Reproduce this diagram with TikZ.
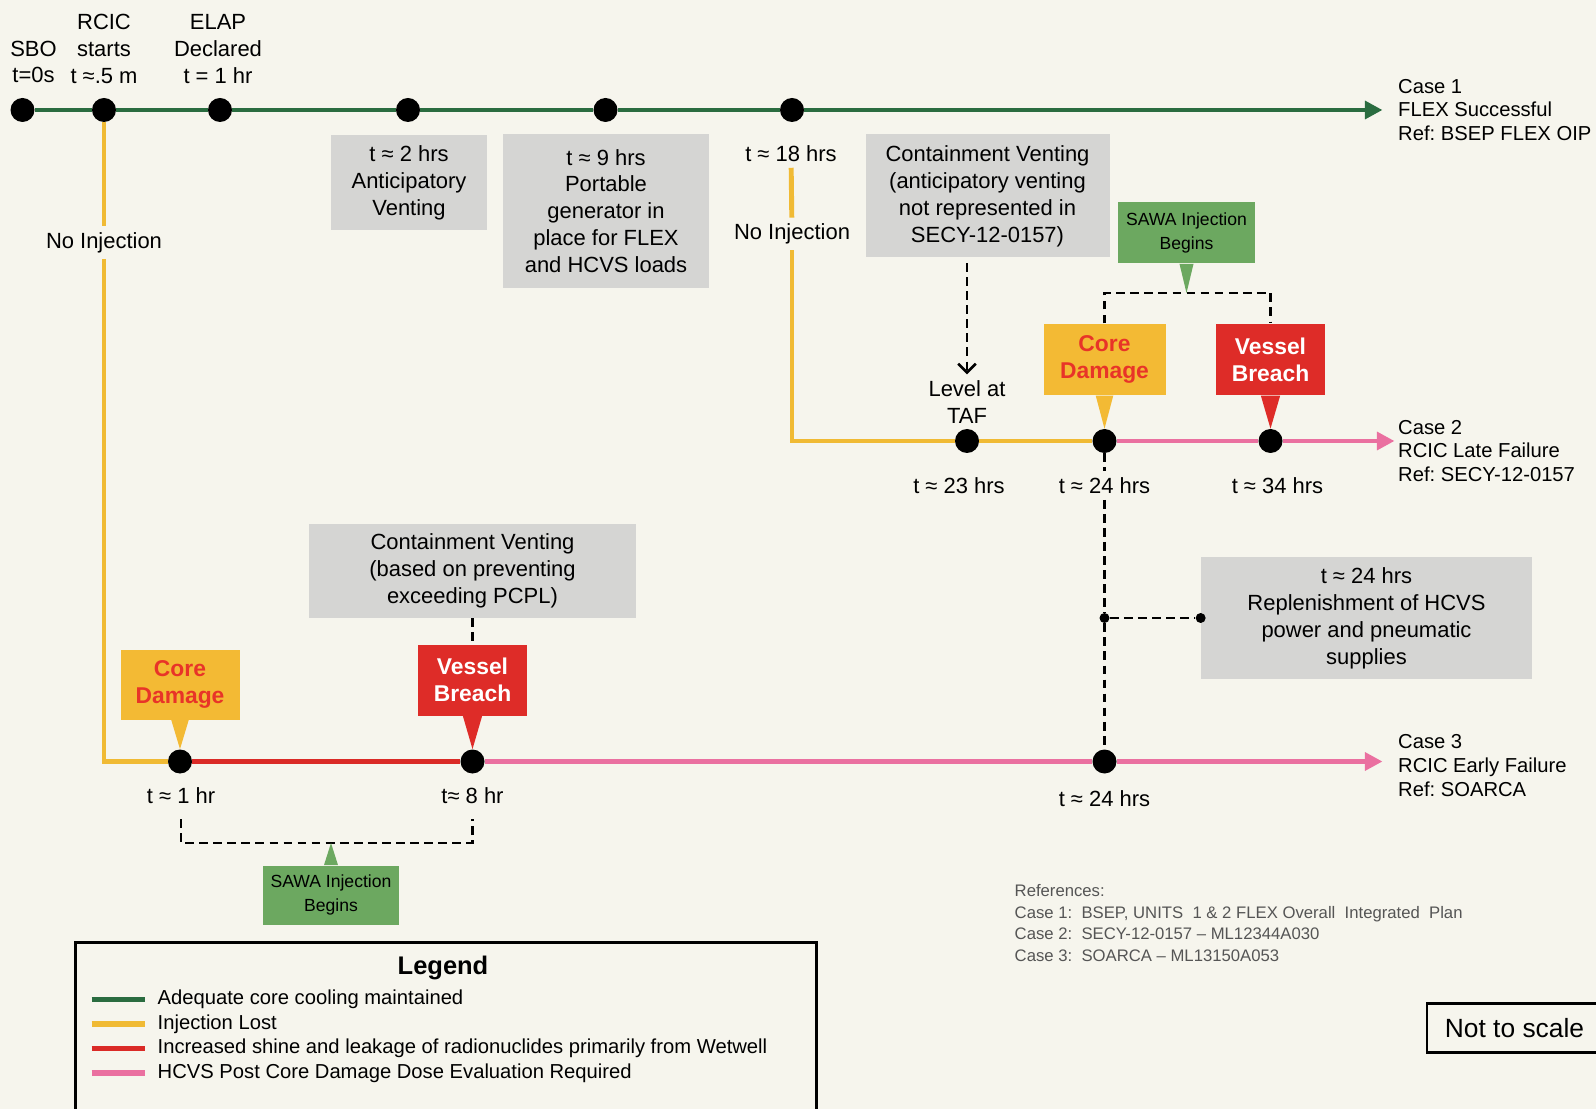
\documentclass[tikz,border=0pt]{standalone}
\usepackage{fontspec}
\setmainfont{Liberation Sans}
\usepackage{tikz}
\usetikzlibrary{arrows.meta,positioning}
\usepackage{xcolor}
\frenchspacing

\definecolor{bgcream}{RGB}{246,245,237}
\definecolor{lngreen}{RGB}{42,108,64}
\definecolor{lnyellow}{RGB}{240,186,52}
\definecolor{lnred}{RGB}{218,42,38}
\definecolor{lnpink}{RGB}{234,112,160}
\definecolor{boxgray}{RGB}{213,213,211}
\definecolor{cdorange}{RGB}{243,186,52}
\definecolor{cdtext}{RGB}{232,52,40}
\definecolor{vbred}{RGB}{222,44,40}
\definecolor{sawagreen}{RGB}{108,168,96}
\definecolor{reftext}{RGB}{85,85,85}

\begin{document}
\begin{tikzpicture}[
  lbl/.style={font=\fontsize{12.5}{15.3}\selectfont, align=center},
  gbox/.style={lbl, fill=boxgray, inner sep=0pt},
  cdbox/.style={fill=cdorange, text=cdtext, font=\fontsize{13}{15.5}\selectfont\bfseries, align=center, inner sep=0pt},
  vbbox/.style={cdbox, fill=vbred, text=white},
  sawabox/.style={fill=sawagreen, font=\fontsize{10}{13.3}\selectfont, align=center, inner sep=0pt},
  ev/.style={circle, fill=black, minimum size=0.48cm, inner sep=0pt},
  smdot/.style={circle, fill=black, minimum size=0.2cm, inner sep=0pt},
  caselbl/.style={font=\fontsize{11.5}{13.5}\selectfont, align=left, anchor=west},
  legtxt/.style={font=\fontsize{11.5}{13.5}\selectfont, anchor=west},
  tl/.style={line width=2.8pt},
  legln/.style={line width=3.4pt},
  dsh/.style={line width=1.5pt, dash pattern=on 5pt off 3pt},
  endtip/.style={-{Triangle[length=10pt,width=10pt]}}]

\useasboundingbox (0,0) rectangle (31.92,-22.18);
\fill[bgcream] (0,0) rectangle (31.92,-22.18);

% Case 1 - FLEX successful
\node[ev] (dsbo) at (0.45,-2.20) {};
\node[ev] (drcic) at (2.08,-2.20) {};
\node[ev] (delap) at (4.40,-2.20) {};
\node[ev] (d2h) at (8.16,-2.20) {};
\node[ev] (d9h) at (12.11,-2.20) {};
\node[ev] (d18h) at (15.84,-2.20) {};
\coordinate (end1) at (27.65,-2.20);
\draw[tl, lngreen, endtip] (dsbo) -- (drcic) -- (delap) -- (d2h) -- (d9h) -- (d18h) -- (end1);
\node[lbl] (lsbo) at (0.67,-1.24) {SBO\\t=0s};
\node[lbl] (lrcic) at (2.08,-0.98) {RCIC\\starts\\t ≈.5 m};
\node[lbl] (lelap) at (4.36,-0.98) {ELAP\\Declared\\t = 1 hr};
\node[caselbl] (c1lbl) at (27.84,-2.20) {Case 1\\FLEX Successful\\Ref: BSEP FLEX OIP};
\node[gbox, minimum width=3.13cm, minimum height=1.89cm] (b2h) at (8.18,-3.65) {t ≈ 2 hrs\\Anticipatory\\Venting};
\node[gbox, minimum width=4.13cm, minimum height=3.07cm] (b9h) at (12.12,-4.22) {t ≈ 9 hrs\\Portable\\generator in\\place for FLEX\\and HCVS loads};
\node[lbl] (t18h) at (15.82,-3.07) {t ≈ 18 hrs};
\node[gbox, minimum width=4.88cm, minimum height=2.46cm] (cv2) at (19.75,-3.92) {Containment Venting\\(anticipatory venting\\not represented in\\SECY-12-0157)};

% Case 2 - RCIC late failure
\node[lbl] (ni2) at (15.84,-4.68) {No Injection};
\node[ev] (dtaf) at (19.34,-8.82) {};
\node[ev] (dcd2) at (22.09,-8.82) {};
\node[ev] (dvb2) at (25.41,-8.82) {};
\coordinate (end2) at (27.89,-8.82);
\draw[tl, lnyellow] (t18h) -- (ni2);
\draw[tl, lnyellow] (ni2) |- (dtaf);
\draw[tl, lnyellow] (dtaf) -- (dcd2);
\draw[tl, lnpink, endtip] (dcd2) -- (dvb2) -- (end2);
\node[lbl] (lvl) at (19.34,-8.04) {Level at\\TAF};
\draw[dsh, shorten <=3pt, -{Straight Barb[length=5pt,width=10pt]}] (dtaf |- cv2.south) -- (lvl);
\node[cdbox, minimum width=2.44cm, minimum height=1.43cm] (cd2) at (22.09,-7.19) {Core\\Damage};
\node[vbbox, minimum width=2.18cm, minimum height=1.43cm] (vb2) at (25.41,-7.19) {Vessel\\Breach};
\fill[cdorange] ([xshift=-5pt]cd2.south) -- (dcd2.north) -- ([xshift=5pt]cd2.south) -- cycle;
\fill[vbred] ([xshift=-5.5pt]vb2.south) -- (dvb2.north) -- ([xshift=5.5pt]vb2.south) -- cycle;
\node[sawabox, minimum width=2.75cm, minimum height=1.22cm] (sw2) at (23.73,-4.66) {SAWA Injection\\Begins};
\coordinate (br2) at (23.73,-5.86);
\fill[sawagreen] ([xshift=-4pt]sw2.south) -- (br2) -- ([xshift=4pt]sw2.south) -- cycle;
\draw[dsh] (cd2.north) |- (br2) -| (vb2.north);
\node[lbl] (t23h) at (19.18,-9.71) {t ≈ 23 hrs};
\node[lbl] (t24a) at (22.09,-9.71) {t ≈ 24 hrs};
\node[lbl] (t34h) at (25.55,-9.71) {t ≈ 34 hrs};
\node[caselbl] (c2lbl) at (27.84,-9.02) {Case 2\\RCIC Late Failure\\Ref: SECY-12-0157};

% Case 3 - RCIC early failure
\node[lbl] (ni1) at (2.08,-4.85) {No Injection};
\node[ev] (dcd3) at (3.60,-15.23) {};
\node[ev] (dvb3) at (9.45,-15.23) {};
\node[ev] (d24c) at (22.09,-15.23) {};
\coordinate (end3) at (27.65,-15.23);
\draw[tl, lnyellow] (drcic) -- (ni1);
\draw[tl, lnyellow] (ni1) |- (dcd3);
\draw[tl, lnred] (dcd3) -- (dvb3);
\draw[tl, lnpink, endtip] (dvb3) -- (d24c) -- (end3);
\node[cdbox, minimum width=2.38cm, minimum height=1.40cm] (cd3) at (3.60,-13.69) {Core\\Damage};
\node[vbbox, minimum width=2.18cm, minimum height=1.42cm] (vb3) at (9.45,-13.60) {Vessel\\Breach};
\fill[cdorange] ([xshift=-5pt]cd3.south) -- (dcd3.north) -- ([xshift=5pt]cd3.south) -- cycle;
\fill[vbred] ([xshift=-5.5pt]vb3.south) -- (dvb3.north) -- ([xshift=5.5pt]vb3.south) -- cycle;
\node[gbox, minimum width=6.53cm, minimum height=1.87cm] (cv3) at (9.45,-11.42) {Containment Venting\\(based on preventing\\exceeding PCPL)};
\draw[dsh] (cv3) -- (vb3);
\node[lbl] (t1h) at (3.62,-15.92) {t ≈ 1 hr};
\node[lbl] (t8h) at (9.45,-15.92) {t≈ 8 hr};
\node[lbl] (t24c) at (22.09,-15.98) {t ≈ 24 hrs};
\node[caselbl] (c3lbl) at (27.84,-15.31) {Case 3\\RCIC Early Failure\\Ref: SOARCA};
\node[sawabox, minimum width=2.73cm, minimum height=1.18cm] (sw3) at (6.62,-17.90) {SAWA Injection\\Begins};
\coordinate (br3) at (6.62,-16.86);
\draw[dsh] ([yshift=-5pt]t1h.south) |- (br3) -| ([yshift=-5pt]t8h.south);
\fill[sawagreen] ([xshift=-4pt]sw3.north) -- (br3) -- ([xshift=4pt]sw3.north) -- cycle;

% replenishment at 24 hrs
\node[smdot] (jn) at (22.09,-12.36) {};
\node[gbox, minimum width=6.62cm, minimum height=2.42cm] (rep) at (27.33,-12.36) {t ≈ 24 hrs\\Replenishment of HCVS\\power and pneumatic\\supplies};
\node[smdot] (jr) at (rep.west) {};
\draw[dsh] (dcd2) -- (t24a);
\draw[dsh] (t24a) -- (jn) -- (d24c);
\draw[dsh] (jn) -- (jr);

% legend
\draw[line width=1.2pt] (1.51,-18.85) rectangle (16.33,-22.6);
\node[font=\fontsize{14.5}{17}\selectfont\bfseries] (legtitle) at (8.86,-19.36) {Legend};
\node[legtxt] (lg1) at (3.03,-19.99) {Adequate core cooling maintained};
\node[legtxt] (lg2) at (3.03,-20.48) {Injection Lost};
\node[legtxt] (lg3) at (3.03,-20.97) {Increased shine and leakage of radionuclides primarily from Wetwell};
\node[legtxt] (lg4) at (3.03,-21.46) {HCVS Post Core Damage Dose Evaluation Required};
\draw[legln, lngreen] (1.83,-19.99) -- (2.89,-19.99);
\draw[legln, lnyellow] (1.83,-20.48) -- (2.89,-20.48);
\draw[legln, lnred] (1.83,-20.97) -- (2.89,-20.97);
\draw[legln, lnpink] (1.83,-21.46) -- (2.89,-21.46);

% references and scale note
\node[font=\fontsize{9.5}{12.2}\selectfont, text=reftext, align=left, anchor=west] (refs) at (20.17,-18.46) {References:\\Case 1:\ \ BSEP, UNITS\ \ 1 \& 2 FLEX Overall\ \ Integrated\ \ Plan\\Case 2:\ \ SECY-12-0157 – ML12344A030\\Case 3:\ \ SOARCA – ML13150A053};
\node[draw, line width=1.2pt, minimum width=3.5cm, minimum height=0.98cm, font=\fontsize{15}{18}\selectfont] (nts) at (30.29,-20.56) {Not to scale};

\end{tikzpicture}
\end{document}
